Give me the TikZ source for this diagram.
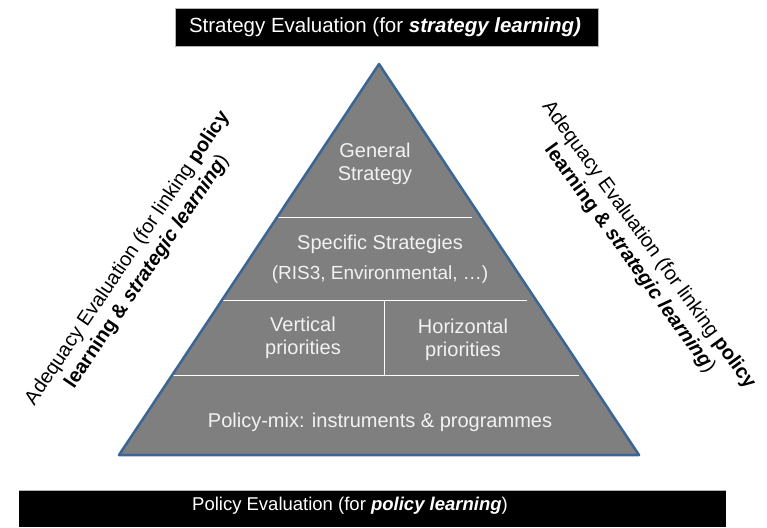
\documentclass[tikz,border=0pt]{standalone}
\usepackage{fontspec}
\setmainfont{Liberation Sans}
\definecolor{pyrfill}{HTML}{7F7F7F}
\definecolor{pyredge}{HTML}{3A6595}
\definecolor{pyrtext}{HTML}{F2F2F2}
\newcommand{\emphbi}[1]{\textbf{\textit{#1}}}
\begin{document}
\begin{tikzpicture}[x=1pt,y=-1pt,
  every node/.style={inner sep=0pt},
  barbox/.style={fill=black, draw=black!30, line width=0.8pt},
  bartext/.style={text=white},
  tier/.style={text=pyrtext, font=\fontsize{20}{23}\selectfont, align=center},
  sidetext/.style={font=\fontsize{20}{23.5}\selectfont, align=center},
  divider/.style={draw=white, line width=1pt},
  pyredgeline/.style={draw=pyredge, line width=2.5pt, line join=round}]
\useasboundingbox (0,0) rectangle (767,527);

% top banner
\node[barbox, minimum width=423pt, minimum height=38pt] (topbar) at (386.5,27) {};
\node[bartext, font=\fontsize{20.5}{24}\selectfont] (toptext) at (385,27.5)
  {Strategy Evaluation (for \emphbi{strategy learning)}};

% bottom banner
\fill (19,490) rectangle (726,527);
\draw[black!30, line width=0.8pt] (19,490) -- (726,490);
\node[bartext, font=\fontsize{18.5}{22}\selectfont] (bottext) at (350,506)
  {Policy Evaluation (for \emphbi{policy learning})};

% pyramid
\coordinate (apex) at (379,64);
\coordinate (bl) at (119,455);
\coordinate (br) at (639,455);
\fill[pyrfill] (apex) -- (bl) -- (br) -- cycle;

% tier dividers
\coordinate (d1a) at (277,217); \coordinate (d1b) at (472,217);
\coordinate (d2a) at (222,300); \coordinate (d2b) at (527,300);
\coordinate (d3a) at (171,375); \coordinate (d3b) at (579,375);
\coordinate (vtop) at (384,300); \coordinate (vbot) at (384,375);
\draw[divider] (d1a) -- (d1b);
\draw[divider] (d2a) -- (d2b);
\draw[divider] (d3a) -- (d3b);
\draw[divider] (vtop) -- (vbot);

\draw[pyredgeline] (apex) -- (bl) -- (br) -- cycle;

% tier labels
\node[tier] (general) at (375,164) {General\\Strategy};
\node[tier] (specific) at (380,244) {Specific Strategies};
\node[tier, font=\fontsize{19}{22}\selectfont] (ris) at (380,275) {(RIS3, Environmental, …)};
\node[tier] (vertical) at (303,338) {Vertical\\priorities};
\node[tier] (horizontal) at (463,340) {Horizontal\\priorities};
\node[tier] (mix) at (380,422) {Policy-mix: instruments \& programmes};

% side labels
\node[sidetext, rotate=56] (leftside) at (137.5,265)
  {Adequacy Evaluation (for linking \textbf{policy}\\\textbf{learning \&} \emphbi{strategic learning})};
\node[sidetext, rotate=-54] (rightside) at (639,252)
  {Adequacy Evaluation (for linking \textbf{policy}\\\textbf{learning \&} \emphbi{strategic learning})};
\end{tikzpicture}
\end{document}
